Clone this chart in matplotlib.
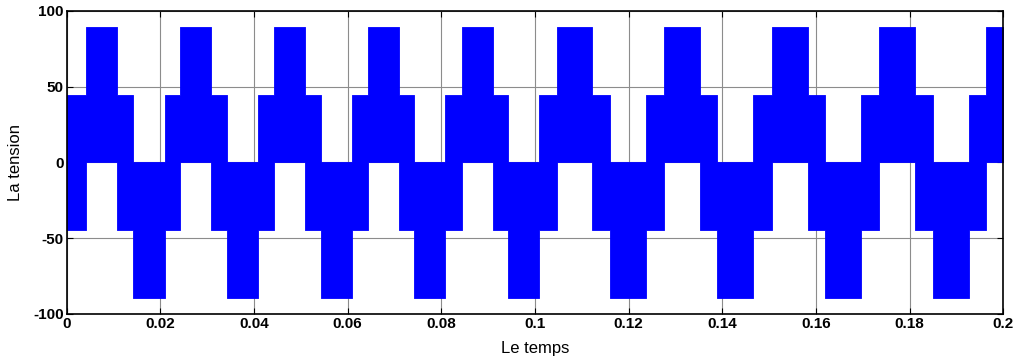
import matplotlib
matplotlib.use("Agg")
import matplotlib.pyplot as plt

# Segment boundaries (s)
t_edges = [0.0, 0.00406, 0.01081, 0.01409, 0.02099, 0.02419, 0.03081, 0.03417,
           0.04091, 0.04427, 0.05089, 0.05437, 0.06086, 0.06440, 0.07096, 0.07416,
           0.08078, 0.08448, 0.09097, 0.09430, 0.10085, 0.10463, 0.11224, 0.11602,
           0.12370, 0.12755, 0.13517, 0.13893, 0.14662, 0.15061, 0.15823, 0.16199,
           0.16955, 0.17346, 0.18108, 0.18493, 0.19261, 0.19637, 0.2]

# PWM switching band (lower / upper voltage level) in each segment
band_low = [-44.8, 0.0, -44.8, -89.4] * 9 + [-44.8, 0.0]
band_high = [44.8, 89.4, 44.8, 0.0] * 9 + [44.8, 89.4]

x_ticks = [0, 0.02, 0.04, 0.06, 0.08, 0.1, 0.12, 0.14, 0.16, 0.18, 0.2]
x_tick_labels = ["0", "0.02", "0.04", "0.06", "0.08", "0.1", "0.12", "0.14",
                 "0.16", "0.18", "0.2"]
y_ticks = [-100, -50, 0, 50, 100]
y_tick_labels = ["-100", "-50", "0", "50", "100"]

plt.rcParams["font.family"] = ["Liberation Sans", "DejaVu Sans"]

fig = plt.figure(figsize=(10.21, 3.60), dpi=100)
ax = fig.add_axes([0.0653, 0.1278, 0.9173, 0.8417])

low = band_low + [band_low[-1]]
high = band_high + [band_high[-1]]
ax.fill_between(t_edges, low, high, step="post", color="#0000ff",
                linewidth=0.6, edgecolor="#0000ff", zorder=3)

ax.set_xlim(0, 0.2)
ax.set_ylim(-100, 100)
ax.set_xticks(x_ticks)
ax.set_xticklabels(x_tick_labels, fontweight="bold", fontsize=11)
ax.set_yticks(y_ticks)
ax.set_yticklabels(y_tick_labels, fontweight="bold", fontsize=11)
ax.tick_params(direction="in", top=True, right=True, length=4, width=0.8,
               pad=2, colors="black")
ax.grid(True, color="#8c8c8c", linewidth=0.8, zorder=1)
ax.set_axisbelow(True)
for s in ax.spines.values():
    s.set_linewidth(1.2)
    s.set_zorder(5)

ax.set_xlabel("Le temps", fontsize=12)
ax.set_ylabel("La tension", fontsize=12)
ax.xaxis.set_label_coords(0.5, -0.089)
ax.yaxis.set_label_coords(-0.047, 0.5)

fig.savefig("out.png", dpi=100)
